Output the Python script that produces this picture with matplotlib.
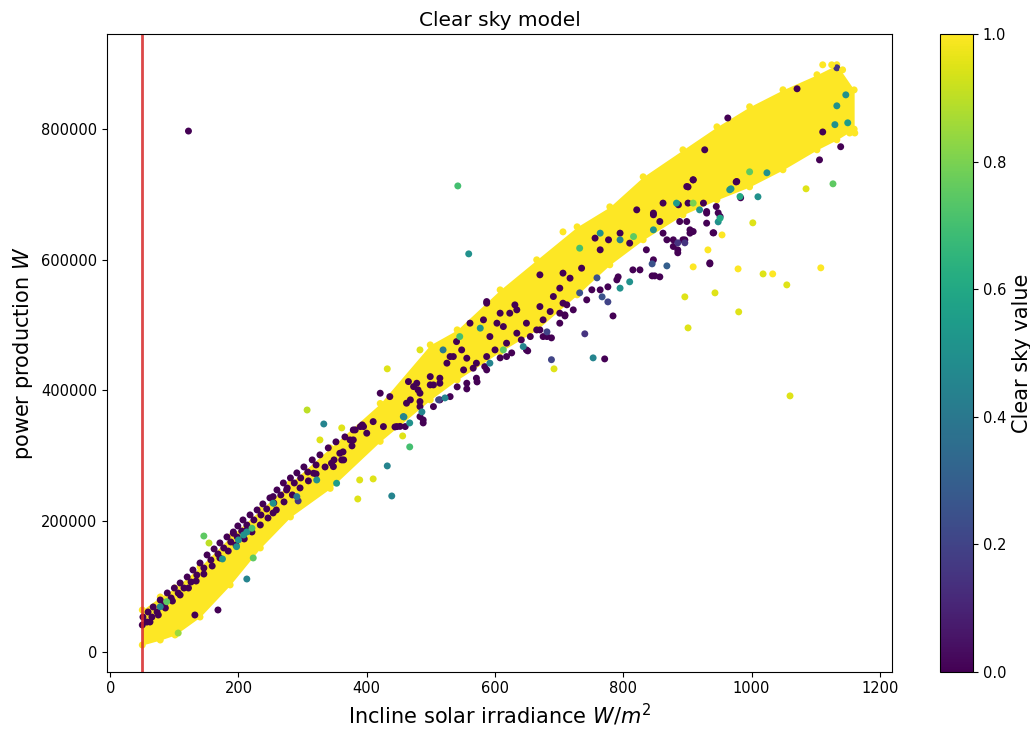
import matplotlib
matplotlib.use('Agg')
import matplotlib.pyplot as plt

# dense yellow core of the cloud (clear sky ~1): edges
band_x = [50, 78, 101, 140, 187, 234, 281, 343, 421, 499, 541, 608,
          665, 728, 779, 831, 893, 946, 997, 1049, 1102, 1133, 1160]
band_top = [63900, 83800, 97600, 129700, 175700, 217000, 258300, 312000,
            380000, 469700, 492700, 553900, 599900, 650400, 681000, 727000,
            768300, 803500, 834200, 860200, 883200, 898500, 860000]
band_bottom = [10300, 17900, 25600, 53100, 102200, 158800, 206300, 250000,
               322000, 385500, 416100, 459000, 492700, 546300, 592200, 630500,
               668800, 691700, 711600, 737700, 768300, 783600, 800000]

# dark strip along the upper edge at low irradiance (clear sky 0)
strip_x = [51, 59, 67, 78, 89, 100, 109, 120, 129, 140, 151, 162, 171, 182,
           192, 199, 207, 218, 229, 238, 249, 260, 270, 281, 291, 302, 315,
           327, 340, 352, 366, 379, 393,
           57, 65, 73, 84, 95, 106, 115, 126, 135, 146, 157, 168, 177, 188,
           198, 205, 213, 224, 235, 244, 255, 266, 276, 287, 297, 308, 321,
           62, 75, 86, 97, 109, 122, 134, 146, 159, 171, 184, 196, 209, 221,
           234, 246, 259, 271, 284, 296, 309, 321, 335, 349, 363, 377]
strip_y = [53100, 60800, 68500, 79200, 89900, 97500, 105200, 114400, 125100,
           135800, 148100, 157300, 166500, 175700, 183300, 192500, 201700,
           209400, 217000, 226200, 235400, 247600, 258300, 266000, 273700,
           282800, 293600, 301300, 312000, 321200, 328800, 339500, 347200,
           45400, 53100, 60800, 71500, 82200, 89800, 97500, 106700, 117400,
           128100, 140400, 149600, 158800, 168000, 175600, 184800, 194000,
           201700, 209300, 218500, 227700, 239900, 250600, 258300, 266000,
           275100, 285900,
           45500, 56200, 66900, 77600, 86800, 97500, 108200, 118900, 131200,
           143400, 154100, 163300, 172600, 183300, 194000, 204700, 217000,
           229300, 240000, 250700, 261500, 272200, 282800, 293600, 305900,
           315100]
strip_c = 0.0

# dark points lining the lower edge of the cloud in the middle
edge_x = [452, 483, 504, 530, 556, 587, 618, 649, 675, 701,
          722, 743, 764, 790, 815, 847, 878, 904, 930, 951]
edge_y = [344900, 359900, 375200, 390500, 411000, 431400, 451800, 462000, 482400, 502900,
          523300, 538600, 553900, 569200, 584500, 599900, 620300, 640700, 656000, 666200]
edge_c = 0.0

# other dark points (clear sky 0)
dark_x = [421, 436, 473, 468, 483, 504, 514, 390, 400, 379,
          364, 348, 317, 275, 254, 213, 192, 465, 480, 483,
          499, 514, 525, 535, 548, 540, 556, 566, 571, 584,
          587, 592, 603, 613, 587, 623, 634, 641, 655, 665,
          675, 681, 686, 701, 706, 709, 395, 382, 374, 358,
          345, 361, 410, 426, 447, 460, 488, 821, 847, 899,
          909, 886, 878, 893, 904, 930, 945, 977, 777, 756,
          735, 717, 691, 670, 649, 631, 608, 582, 561, 587,
          670, 701, 764, 795, 810, 836, 862, 899, 826, 530,
          514, 499, 478, 462, 483, 551, 571, 600, 618, 634,
          670, 706, 901, 862, 888, 909, 925, 930, 847, 857,
          868, 122, 771, 784, 845, 857, 935, 940, 885, 896,
          709, 651, 626, 608, 688, 712, 751, 776, 792, 541,
          556, 572, 488, 1139, 1106, 1071, 1111, 963, 927, 909,
          901, 976, 983, 948, 941, 935, 885, 849, 444, 168,
          132, 50, 254]
dark_y = [395700, 390500, 405800, 385500, 395700, 408400, 385500, 344600, 334500, 324200,
          293600, 283300, 273200, 247600, 237400, 186400, 181300, 413500, 400800, 382900,
          408400, 418700, 441700, 451800, 462000, 474700, 449300, 434000, 418700, 436400,
          451800, 482400, 502900, 497700, 533500, 518200, 523300, 477300, 482400, 492600,
          508000, 482400, 520700, 518200, 533500, 515600, 344600, 339500, 324200, 303800,
          288500, 293600, 352200, 344600, 344600, 344600, 354800, 676400, 668800, 712100,
          722400, 684100, 630500, 630500, 645800, 673800, 681500, 719800, 630500, 633100,
          587100, 571800, 543700, 528300, 502900, 530900, 518200, 508000, 502900, 536000,
          576900, 556500, 615200, 640700, 625400, 615200, 640700, 658500, 584500, 451800,
          411000, 421100, 411000, 380400, 375200, 431400, 441700, 462000, 472300, 487600,
          492600, 579500, 686700, 686700, 658500, 643200, 686700, 671400, 671400, 658500,
          630500, 797000, 448200, 514000, 575300, 573800, 593700, 641200, 615100, 630400,
          514000, 460500, 457400, 449800, 480400, 531000, 554000, 558500, 573800, 405400,
          402300, 413000, 350200, 773000, 752900, 861700, 795600, 817000, 768300, 722200,
          711500, 719100, 694800, 671800, 641200, 595200, 610600, 575300, 344100, 63900,
          56200, 40900, 212400]
dark_c = 0.0

# bluish points
blue_x = [1133, 293, 896, 885, 776, 767, 759, 732, 845, 740, 688, 681, 512, 868]
blue_y = [893800, 230800, 625900, 625900, 535500, 543200, 572300, 549300,
          593700, 486600, 447000, 489600, 385500, 590600]
blue_c = [0.15, 0.15, 0.15, 0.15, 0.2, 0.25, 0.25, 0.25, 0.25, 0.15, 0.2,
          0.2, 0.2, 0.3]

# teal / green points
teal_x = [542, 559, 753, 1147, 1133, 1150, 1130, 1127, 968, 1010,
          1024, 997, 948, 467, 432, 439, 333, 146, 213, 223,
          175, 213, 200, 467, 458, 486, 522, 810, 732, 764,
          795, 816, 847, 883, 909, 919, 951, 966, 982, 577,
          592, 613, 644, 795, 457, 519, 545, 197, 208, 221,
          88, 78, 254, 291, 322, 353]
teal_y = [713000, 609000, 449800, 852400, 835600, 809600, 806800, 716200, 708600, 696400,
          733100, 734600, 658000, 313500, 284400, 238400, 348600, 177100, 111300, 143500,
          142000, 183300, 171100, 350200, 359400, 367100, 388500, 566200, 617700, 640700,
          630500, 635500, 645800, 686700, 686700, 676400, 663700, 707100, 696800, 495300,
          441700, 462000, 467100, 556500, 359900, 462000, 482400, 160800, 178700, 189000,
          76600, 68900, 227300, 237400, 262900, 257900]
teal_c = [0.7, 0.5, 0.45, 0.5, 0.5, 0.55, 0.5, 0.75, 0.5, 0.5,
          0.5, 0.75, 0.5, 0.7, 0.45, 0.45, 0.45, 0.75, 0.45, 0.75,
          0.5, 0.5, 0.5, 0.5, 0.45, 0.45, 0.45, 0.5, 0.7, 0.5,
          0.45, 0.75, 0.5, 0.55, 0.8, 0.5, 0.6, 0.5, 0.6, 0.5,
          0.45, 0.75, 0.45, 0.5, 0.45, 0.4, 0.7, 0.5, 0.5, 0.7,
          0.75, 0.45, 0.5, 0.4, 0.5, 0.55]

# scattered yellow points off the main cloud
yel_x = [483, 706, 692, 896, 901, 909, 943, 932, 979, 980, 954, 1111, 1125,
         1142, 1153, 1161, 1085, 1002, 1018, 1033, 1055, 1108, 1060, 432, 361,
         410, 386, 389, 456, 307, 327, 154, 106]
yel_y = [462000, 642700, 433000, 543200, 495700, 589100, 549300, 615100,
         586000, 520200, 638000, 898400, 898400, 890700, 794000, 794000,
         708600, 656500, 578300, 578300, 561500, 587600, 391600, 433000,
         342600, 264500, 233800, 262900, 330300, 370000, 324200, 166400, 28600]
yel_c = [0.95, 1.0, 0.95, 0.95, 0.95, 1.0, 0.95, 1.0, 1.0, 0.95, 1.0, 1.0,
         1.0, 1.0, 1.0, 1.0, 0.95, 0.95, 0.95, 1.0, 0.95, 1.0, 0.95, 0.95,
         0.95, 0.95, 0.95, 0.95, 0.95, 0.9, 0.95, 0.9, 0.85]

cutoff = 50

fig = plt.figure(figsize=(10.3, 7.29), dpi=100)
ax = fig.add_axes([0.1039, 0.0786, 0.7621, 0.8748])
cax = fig.add_axes([0.9126, 0.0786, 0.032, 0.8748])

yellow = plt.cm.viridis(1.0)
kw = dict(cmap='viridis', vmin=0, vmax=1, s=25, linewidths=0)

ax.fill_between(band_x, band_bottom, band_top, color=yellow, linewidth=0)
ax.scatter(band_x + band_x, band_top + band_bottom, c=[1.0] * (2 * len(band_x)), **kw)
ax.scatter(strip_x, strip_y, c=[strip_c] * len(strip_x), **kw)
ax.scatter(edge_x, edge_y, c=[edge_c] * len(edge_x), **kw)
ax.scatter(dark_x, dark_y, c=[dark_c] * len(dark_x), **kw)
ax.scatter(blue_x, blue_y, c=blue_c, **kw)
ax.scatter(teal_x, teal_y, c=teal_c, **kw)
sc = ax.scatter(yel_x, yel_y, c=yel_c, **kw)

ax.axvline(cutoff, color='#d62728', alpha=0.85, linewidth=2)

ax.set_xlim(-5, 1219)
ax.set_ylim(-30600, 945600)
ax.set_title('Clear sky model', fontsize=14.5)
ax.set_xlabel('Incline solar irradiance $W/m^2$', fontsize=15)
ax.set_ylabel('power production $W$', fontsize=15)
ax.tick_params(labelsize=10.5)

cb = fig.colorbar(sc, cax=cax)
cb.set_label('Clear sky value', fontsize=15)
cb.ax.tick_params(labelsize=10.5)

fig.savefig('out.png', dpi=100)
